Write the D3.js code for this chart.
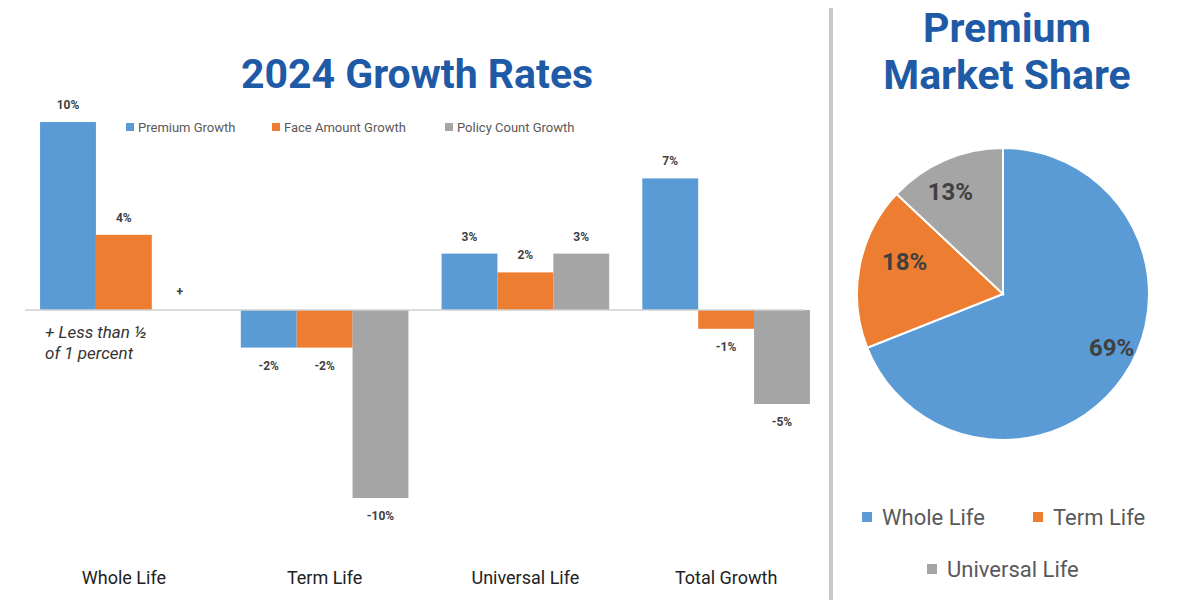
<!DOCTYPE html>
<html><head><meta charset="utf-8">
<script src="https://cdn.jsdelivr.net/npm/d3@7"></script>
<style>body{margin:0;background:#fff}</style>
</head><body><div id="c"></div>
<script>
const categories = ['Whole Life', 'Term Life', 'Universal Life', 'Total Growth'];
const seriesNames = ['Premium Growth', 'Face Amount Growth', 'Policy Count Growth'];
const premiumGrowth = [10, -2, 3, 7];
const faceGrowth = [4, -2, 2, -1];
const policyGrowth = [0.05, -10, 3, -5];
const barLabels = [['10%', '4%', '+'], ['-2%', '-2%', '-10%'], ['3%', '2%', '3%'], ['7%', '-1%', '-5%']];
const pieNames = ['Whole Life', 'Term Life', 'Universal Life'];
const pieValues = [69, 18, 13];
const colors = ['#5b9bd5', '#ed7d31', '#a5a5a5'];
const blue = '#1f5aa6';

const svg = d3.select('#c').append('svg').attr('width', 1200).attr('height', 600)
  .style('font-family', 'Roboto, Arial, sans-serif');

const x0 = d3.scaleBand().domain(categories).range([23, 827]).paddingInner(0.165).paddingOuter(0.085);
const x1 = d3.scaleBand().domain(d3.range(3)).range([0, x0.bandwidth()]);
const y = d3.scaleLinear().domain([-10, 10]).range([498, 122]);

svg.append('text').attr('x', 417).attr('y', 88).attr('text-anchor', 'middle')
  .attr('font-size', 41).attr('font-weight', 'bold').attr('fill', blue).text('2024 Growth Rates');

const series = [premiumGrowth, faceGrowth, policyGrowth];
const rows = categories.map((c, i) => ({ c, i, v: series.map(s => s[i]) }));

const g = svg.append('g').selectAll('g').data(rows).join('g')
  .attr('transform', d => `translate(${x0(d.c)},0)`);
g.selectAll('rect').data(d => d.v.map((v, j) => ({ v, j, i: d.i })).filter(d => !(d.i === 0 && d.j === 2)))
  .join('rect')
  .attr('x', d => x1(d.j)).attr('width', x1.bandwidth())
  .attr('y', d => y(Math.max(0, d.v))).attr('height', d => Math.abs(y(d.v) - y(0)))
  .attr('fill', d => colors[d.j]);
g.selectAll('text').data(d => d.v.map((v, j) => ({ v, j, i: d.i })))
  .join('text')
  .attr('x', d => x1(d.j) + x1.bandwidth() / 2)
  .attr('y', d => d.v >= 0 ? y(d.v) - 13 : y(d.v) + 22)
  .attr('text-anchor', 'middle').attr('font-size', 12).attr('font-weight', 'bold').attr('fill', '#404040')
  .text(d => barLabels[d.i][d.j]);

svg.append('line').attr('x1', 25).attr('x2', 805).attr('y1', y(0)).attr('y2', y(0))
  .attr('stroke', '#d0d0d0').attr('stroke-width', 1.5);

svg.append('g').attr('transform', `translate(0,${578})`)
  .call(d3.axisBottom(x0).tickSize(0).tickPadding(0))
  .call(a => a.select('.domain').remove())
  .selectAll('text').attr('font-size', 18).attr('fill', '#222').attr('font-family', 'Roboto, Arial, sans-serif')
  .attr('dy', '0.35em');

// note
svg.append('text').attr('x', 45).attr('y', 338).attr('font-size', 17).attr('font-style', 'italic').attr('fill', '#333').text('+ Less than ½');
svg.append('text').attr('x', 45).attr('y', 359).attr('font-size', 17).attr('font-style', 'italic').attr('fill', '#333').text('of 1 percent');

// legend
const legX = [126, 272, 445];
seriesNames.forEach((n, i) => {
  svg.append('rect').attr('x', legX[i]).attr('y', 123).attr('width', 8).attr('height', 8).attr('fill', colors[i]);
  svg.append('text').attr('x', legX[i] + 12).attr('y', 132).attr('font-size', 13).attr('fill', '#595959').text(n);
});

// divider
svg.append('line').attr('x1', 831).attr('x2', 831).attr('y1', 8).attr('y2', 600).attr('stroke', '#c8c8c8').attr('stroke-width', 4);

// pie
svg.append('text').attr('x', 1007).attr('y', 42).attr('text-anchor', 'middle').attr('font-size', 41).attr('font-weight', 'bold').attr('fill', blue).text('Premium');
svg.append('text').attr('x', 1007).attr('y', 89).attr('text-anchor', 'middle').attr('font-size', 41).attr('font-weight', 'bold').attr('fill', blue).text('Market Share');

const pie = d3.pie().sort(null)(pieValues);
const arc = d3.arc().innerRadius(0).outerRadius(146);
const lab = d3.arc().innerRadius(95).outerRadius(95);
const pg = svg.append('g').attr('transform', 'translate(1003,294)');
pg.selectAll('path').data(pie).join('path').attr('d', arc).attr('fill', (d, i) => colors[i])
  .attr('stroke', '#fff').attr('stroke-width', 2);
const labOff = [[30, 0], [-5, -15], [-15, -15]];
pg.selectAll('text').data(pie).join('text')
  .attr('x', (d, i) => lab.centroid(d)[0] + labOff[i][0]).attr('y', (d, i) => lab.centroid(d)[1] + labOff[i][1])
  .attr('text-anchor', 'middle').attr('dy', '0.35em').attr('font-size', 24).attr('font-weight', 'bold').attr('fill', '#404040')
  .text(d => d.data + '%');

const pl = [[862, 517], [1033, 517], [927, 569]];
pieNames.forEach((n, i) => {
  svg.append('rect').attr('x', pl[i][0]).attr('y', pl[i][1] - 5).attr('width', 10).attr('height', 10).attr('fill', colors[i]);
  svg.append('text').attr('x', pl[i][0] + 20).attr('y', pl[i][1]).attr('dy', '0.35em').attr('font-size', 22).attr('fill', '#595959').text(n);
});
</script></body></html>
